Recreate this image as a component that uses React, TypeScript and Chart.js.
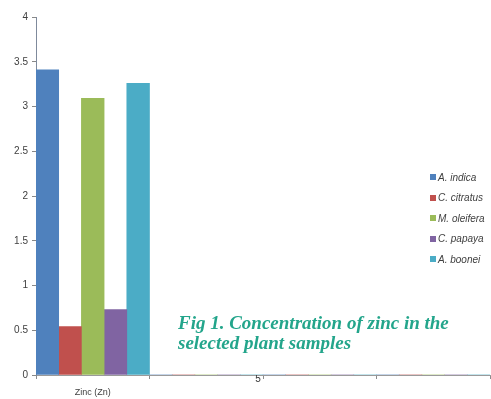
import React, { useEffect, useRef } from "react";
import { Chart, registerables } from "chart.js";
Chart.register(...registerables);

const categories = ["Zinc (Zn)", "", "", ""];
const boundaryLabels = ["", "", "5", "", ""];
const seriesNames = ["A. indica", "C. citratus", "M. oleifera", "C. papaya", "A. boonei"];
const aIndica = [3.41, 0, 0, 0];
const cCitratus = [0.54, 0, 0, 0];
const mOleifera = [3.09, 0, 0, 0];
const cPapaya = [0.73, 0, 0, 0];
const aBoonei = [3.26, 0, 0, 0];
const seriesValues = [aIndica, cCitratus, mOleifera, cPapaya, aBoonei];
const seriesColors = ["#4F81BD", "#C0504D", "#9BBB59", "#8064A2", "#4BACC6"];
const yMin = 0;
const yMax = 4;
const yStep = 0.5;
const captionLines = ["Fig 1. Concentration of zinc in the", "selected plant samples"];

export default function App() {
  const ref = useRef<HTMLCanvasElement | null>(null);
  useEffect(() => {
    if (!ref.current) return;
    const chart = new Chart(ref.current, {
      type: "bar",
      data: {
        labels: categories,
        datasets: seriesNames.map((name, i) => ({
          label: name,
          data: seriesValues[i],
          backgroundColor: seriesColors[i],
          borderWidth: 0,
          categoryPercentage: 1,
          barPercentage: 1,
          xAxisID: "x",
          yAxisID: "y",
        })),
      },
      options: {
        responsive: false,
        animation: false,
        layout: { padding: { top: 17, right: 1, left: 0, bottom: 0 } },
        plugins: { legend: { display: false }, tooltip: { enabled: false } },
        scales: {
          x: {
            position: "bottom",
            weight: 1,
            grid: { display: false, drawTicks: false },
            border: { display: false },
            ticks: {
              autoSkip: false,
              maxRotation: 0,
              padding: 4,
              color: "#404040",
              font: { family: "Liberation Sans", size: 9 },
            },
            afterFit: (s: any) => { s.height = 16; },
          },
          x2: {
            type: "category",
            labels: boundaryLabels,
            offset: false,
            position: "bottom",
            weight: 0,
            grid: { display: true, offset: false, drawOnChartArea: false, drawTicks: true, tickLength: 4, color: "#8c8c8c" },
            border: { display: true, color: "#9a9a9a", width: 1 },
            ticks: {
              autoSkip: false,
              maxRotation: 0,
              padding: -6,
              labelOffset: -5,
              color: "#333",
              font: { family: "Liberation Sans", size: 10 },
            },
            afterFit: (s: any) => { s.height = 8; },
          },
          y: {
            min: yMin,
            max: yMax,
            ticks: {
              stepSize: yStep,
              color: "#404040",
              font: { family: "Liberation Sans", size: 10 },
              padding: 4,
              callback: (v: any) => String(Number(v)),
            },
            grid: { display: true, drawOnChartArea: false, drawTicks: true, tickLength: 4, color: "#888" },
            border: { display: true, color: "#7f8a9c", width: 1 },
            afterFit: (s: any) => { s.width = 36; },
          },
        } as any,
      },
    });
    return () => chart.destroy();
  }, []);

  return (
    <div style={{ position: "fixed", left: 0, top: 0, width: 491, height: 399, background: "#fff" }}>
      <canvas ref={ref} width={491} height={399} style={{ display: "block" }} />
      <div
        style={{
          position: "absolute",
          left: 178,
          top: 313,
          color: "#23a58b",
          fontFamily: "'Liberation Serif', serif",
          fontWeight: "bold",
          fontStyle: "italic",
          fontSize: 19,
          lineHeight: "20px",
          whiteSpace: "nowrap",
        }}
      >
        {captionLines.map((l, i) => (
          <div key={i}>{l}</div>
        ))}
      </div>
      {seriesNames.map((name, i) => (
        <div
          key={name}
          style={{
            position: "absolute",
            left: 430,
            top: 170 + i * 20.5,
            height: 14,
            display: "flex",
            alignItems: "center",
            fontFamily: "'Liberation Sans', sans-serif",
            fontStyle: "italic",
            fontSize: 10,
            color: "#404040",
            whiteSpace: "nowrap",
          }}
        >
          <span style={{ display: "inline-block", width: 6, height: 6, background: seriesColors[i], marginRight: 2 }} />
          {name}
        </div>
      ))}
    </div>
  );
}
